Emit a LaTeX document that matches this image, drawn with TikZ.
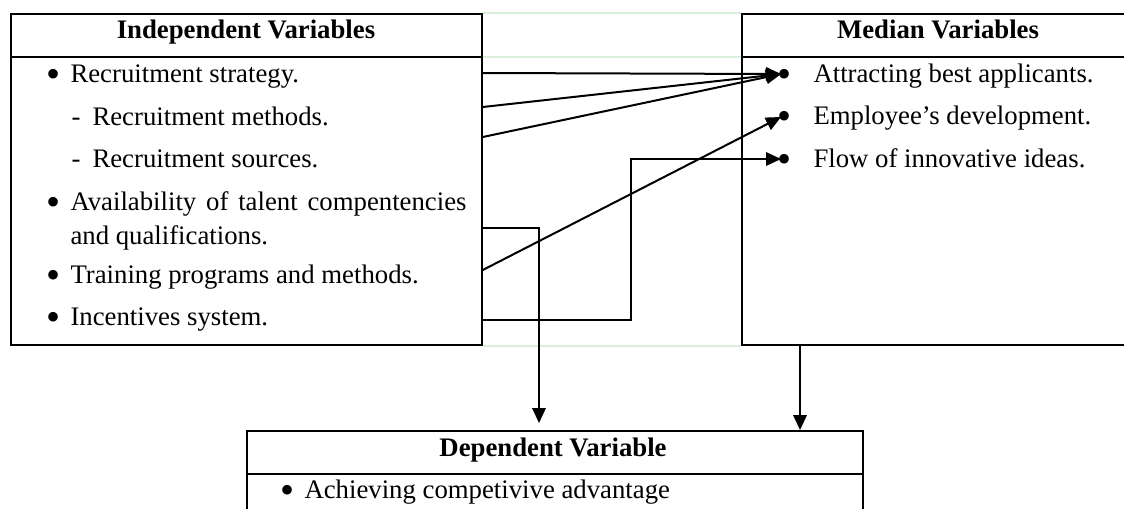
\documentclass[tikz,border=0pt]{standalone}
\usepackage{fontspec}
\usepackage{graphicx}
\setmainfont{Liberation Serif}
\usetikzlibrary{arrows.meta,calc}

\begin{document}
\begin{tikzpicture}[
 x=0.4pt,y=-0.4pt,
 font=\fontsize{10.7}{13.6}\selectfont,
 panel/.style={draw,line width=0.7pt,anchor=north west,inner sep=0pt,minimum height=132.4pt},
 head/.style={anchor=base,font=\fontsize{10.7}{13.6}\selectfont\bfseries},
 item/.style={anchor=base west,inner sep=0pt},
 ghost/.style={draw=green!60!black!15,line width=0.7pt},
 arrow/.style={-{Triangle[length=6pt,width=5.4pt]},line width=0.8pt}
]
\useasboundingbox (0,0) rectangle (1124,508);
\clip (0,0) rectangle (1124,508);
\newcommand{\bigdot}{\raisebox{-2pt}{\scalebox{1.5}{\textbullet}}}
\newcommand{\bul}{\makebox[9.6pt][l]{\bigdot}}
\newcommand{\sub}{\makebox[8.4pt][l]{-}}

% the three tables
\node[panel,minimum width=188.4pt] (indep) at (10,13) {};
\node[panel,minimum width=160pt] (median) at (741,13) {};
\node[panel,minimum width=246.4pt,minimum height=40pt] (dep) at (246,430) {};
\foreach \b in {indep,median,dep}
 \draw[line width=0.7pt] ([yshift=-17.6pt]\b.north west) -- ([yshift=-17.6pt]\b.north east);
% hidden cell borders between the two upper tables
\draw[ghost] (indep.north east) -- (median.north west);
\draw[ghost] ([yshift=-17.6pt]indep.north east) -- ([yshift=-17.6pt]median.north west);
\draw[ghost] (indep.south east) -- (median.south west);

\node[head] (indephead) at (246,38) {Independent Variables};
\node[head] (medhead) at (938,38) {Median Variables};
\node[head] (dephead) at (553,456) {Dependent Variable};

% independent variables
\node[item] (strat) at (46,82) {\bul Recruitment strategy.};
\node[item] (methods) at (71,125) {\sub Recruitment methods.};
\node[item] (sources) at (71,167) {\sub Recruitment sources.};
\node[item] (avail) at (46,210) {\bul\makebox[158.4pt][s]{Availability of talent compentencies}};
\node[item] (qualif) at (70,244) {and qualifications.};
\node[item] (train) at (46,283) {\bul Training programs and methods.};
\node[item] (incent) at (46,325) {\bul Incentives system.};

% median variables
\node[item] (attract) at (777,82) {\makebox[14.4pt][l]{\bigdot}Attracting best applicants.};
\node[item] (develop) at (777,124) {\makebox[14.4pt][l]{\bigdot}Employee’s development.};
\node[item] (ideas) at (777,167) {\makebox[14.4pt][l]{\bigdot}Flow of innovative ideas.};

% dependent variable
\node[item] (advant) at (280,498) {\bul Achieving competivive advantage};

% connectors
\coordinate (t1) at (781,74);
\coordinate (t2) at (781,117);
\coordinate (t3) at (781,159);
\draw[arrow] (indep.east |- 0,73) -- (t1);
\draw[arrow] (indep.east |- 0,107) -- (t1);
\draw[arrow] (indep.east |- 0,137) -- (t1);
\draw[arrow] (indep.east |- 0,270) -- (t2);
\draw[arrow] (indep.east |- 0,320) -| (631,159) -- (t3);
\draw[arrow] (indep.east |- 0,228) -| (539,423);
\draw[arrow] (median.south west -| 800,0) -- (dep.north west -| 800,0);
\end{tikzpicture}
\end{document}
